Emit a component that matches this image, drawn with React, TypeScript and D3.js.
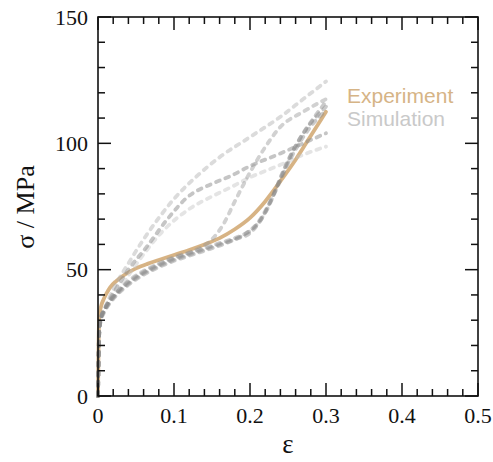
import React from "react";
import * as d3 from "d3";

const W = 493;
const H = 462;

// Experiment curve (strain, stress in MPa)
const expStrain = [0, 0.0005, 0.001, 0.002, 0.004, 0.007, 0.011, 0.016, 0.024, 0.035, 0.05, 0.065, 0.08, 0.1, 0.12, 0.14, 0.16, 0.18, 0.2, 0.22, 0.24, 0.26, 0.28, 0.3];
const expStress = [0, 14, 25, 32, 35.5, 38, 40.5, 43, 45.5, 48, 50.5, 52.3, 53.8, 55.8, 57.8, 60, 62.5, 66, 70.5, 77, 85, 93.5, 103, 112.5];

// Simulation curves
const simA_strain = [0, 0.0005, 0.001, 0.002, 0.004, 0.008, 0.015, 0.025, 0.04, 0.06, 0.08, 0.1, 0.13, 0.16, 0.2, 0.24, 0.27, 0.3];
const simA_stress = [0, 10, 19, 27, 31, 34, 39, 45, 52.5, 62, 70.5, 78, 87, 94.5, 102.5, 110.5, 117.5, 124.5];

const simB_strain = [0, 0.0005, 0.001, 0.002, 0.004, 0.008, 0.015, 0.025, 0.04, 0.064, 0.09, 0.117, 0.15, 0.174, 0.2, 0.24, 0.27, 0.3];
const simB_stress = [0, 10, 19, 27, 31, 34, 38, 43, 50, 59, 69.5, 78.5, 84, 87, 91, 96, 100, 104];

const simC_strain = [0, 0.0005, 0.001, 0.002, 0.004, 0.008, 0.015, 0.025, 0.05, 0.086, 0.12, 0.15, 0.174, 0.2, 0.24, 0.27, 0.3];
const simC_stress = [0, 10, 19, 27, 31, 33.5, 37, 41, 52, 65.5, 74, 79, 82.5, 86.5, 91.5, 95.5, 98.7];

const simD_strain = [0, 0.0005, 0.001, 0.002, 0.004, 0.008, 0.015, 0.025, 0.04, 0.06, 0.08, 0.1, 0.13, 0.15, 0.165, 0.18, 0.2, 0.22, 0.24, 0.27, 0.3];
const simD_stress = [0, 10, 19, 27, 31, 34, 37.5, 41, 45.5, 49.5, 52.5, 55, 58, 62, 68, 77, 88.5, 98.5, 106.5, 112.5, 117.5];

const simE_strain = [0, 0.0005, 0.001, 0.002, 0.004, 0.008, 0.015, 0.025, 0.04, 0.06, 0.08, 0.1, 0.12, 0.14, 0.16, 0.18, 0.195, 0.21, 0.225, 0.24, 0.255, 0.27, 0.285, 0.3];
const simE_stress = [0, 10, 19, 27, 31, 34, 37.5, 41, 45, 49, 52, 54.5, 56.5, 58.5, 60.5, 62.5, 64.5, 68.5, 76, 86, 96, 104, 110.5, 116.5];

const simF_strain = [0, 0.0005, 0.001, 0.002, 0.004, 0.008, 0.015, 0.025, 0.04, 0.06, 0.08, 0.1, 0.12, 0.14, 0.16, 0.18, 0.2, 0.215, 0.23, 0.245, 0.26, 0.28, 0.3];
const simF_stress = [0, 10, 19, 27, 30.5, 33.5, 37, 40.5, 44.5, 48.5, 51.5, 54, 56, 58, 60, 62, 64.5, 70, 79, 90, 99, 108, 114.5];

const simG_strain = [0, 0.0005, 0.001, 0.002, 0.004, 0.008, 0.015, 0.025, 0.04, 0.06, 0.08, 0.1, 0.12, 0.14, 0.16, 0.19, 0.205, 0.22, 0.235, 0.25, 0.27, 0.285, 0.3];
const simG_stress = [0, 10, 19, 26.5, 30, 33, 36.5, 40, 44, 48, 51, 53.5, 55.5, 57.5, 59.5, 63.5, 66.5, 72.5, 82, 92, 102.5, 108.5, 113];

const xTicks = [0, 0.1, 0.2, 0.3, 0.4, 0.5];
const yTicks = [0, 50, 100, 150];
const legendLabels = ["Experiment", "Simulation"];

const simCurves = [
  { strain: simC_strain, stress: simC_stress, color: "#c4c4c4", opacity: 0.45 },
  { strain: simA_strain, stress: simA_stress, color: "#b0b0b0", opacity: 0.45 },
  { strain: simB_strain, stress: simB_stress, color: "#8c8c8c", opacity: 0.5 },
  { strain: simD_strain, stress: simD_stress, color: "#9a9a9a", opacity: 0.45 },
  { strain: simE_strain, stress: simE_stress, color: "#8a8a8a", opacity: 0.45 },
  { strain: simF_strain, stress: simF_stress, color: "#8a8a8a", opacity: 0.45 },
  { strain: simG_strain, stress: simG_stress, color: "#8a8a8a", opacity: 0.45 },
];

export default function App() {
  const left = 98, right = 478, top = 17, bottom = 396;
  const x = d3.scaleLinear().domain([0, 0.5]).range([left, right]);
  const y = d3.scaleLinear().domain([0, 150]).range([bottom, top]);

  const line = d3
    .line<[number, number]>()
    .x((d) => x(d[0]))
    .y((d) => y(d[1]))
    .curve(d3.curveMonotoneX);

  const pts = (a: number[], b: number[]) => a.map((v, i) => [v, b[i]] as [number, number]);

  const xMinor = d3.range(0, 0.5001, 0.02);
  const yMinor = d3.range(0, 150.01, 10);
  const majLen = 13, minLen = 7;
  const serif = "'Liberation Serif', 'Times New Roman', serif";
  const sans = "'Liberation Sans', Arial, Helvetica, sans-serif";

  return (
    <svg width={W} height={H} style={{ position: "absolute", left: 0, top: 0, background: "#fff" }}>
      <rect x={0} y={0} width={W} height={H} fill="#fff" />
      {/* experiment */}
      <path d={line(pts(expStrain, expStress)) || ""} fill="none" stroke="#d0a66e" strokeWidth={3.8} strokeOpacity={0.85} strokeLinejoin="round" strokeLinecap="round" />
      {/* simulations */}
      {simCurves.map((c, i) => (
        <path
          key={i}
          d={line(pts(c.strain, c.stress)) || ""}
          fill="none"
          stroke={c.color}
          strokeOpacity={c.opacity}
          strokeWidth={3.8}
          strokeDasharray="4 6"
          strokeLinecap="round"
        />
      ))}
      {/* frame */}
      <rect x={left} y={top} width={right - left} height={bottom - top} fill="none" stroke="#111" strokeWidth={1.6} />
      {/* x ticks */}
      {xMinor.map((v, i) => {
        const major = i % 5 === 0;
        const len = major ? majLen : minLen;
        return (
          <g key={"xt" + i} stroke="#111" strokeWidth={1.5}>
            <line x1={x(v)} x2={x(v)} y1={bottom} y2={bottom - len} />
            <line x1={x(v)} x2={x(v)} y1={top} y2={top + len} />
          </g>
        );
      })}
      {yMinor.map((v, i) => {
        const major = i % 5 === 0;
        const len = major ? majLen : minLen;
        return (
          <g key={"yt" + i} stroke="#111" strokeWidth={1.5}>
            <line x1={left} x2={left + len} y1={y(v)} y2={y(v)} />
            <line x1={right} x2={right - len} y1={y(v)} y2={y(v)} />
          </g>
        );
      })}
      {xTicks.map((v) => (
        <text key={"xl" + v} x={x(v)} y={423} textAnchor="middle" fontFamily={serif} fontSize={22} fill="#111">
          {String(v)}
        </text>
      ))}
      {yTicks.map((v) => (
        <text key={"yl" + v} x={88} y={y(v)} dy="0.35em" textAnchor="end" fontFamily={serif} fontSize={22} fill="#111">
          {String(v)}
        </text>
      ))}
      <text x={288} y={453} textAnchor="middle" fontFamily={serif} fontSize={27} fill="#111">ε</text>
      <text transform={`translate(34,207) rotate(-90)`} textAnchor="middle" fontFamily={serif} fontSize={26} fill="#111">σ / MPa</text>
      <text x={347} y={103} fontFamily={sans} fontSize={21} fill="#d6b486">{legendLabels[0]}</text>
      <text x={347} y={126} fontFamily={sans} fontSize={21} fill="#c9c9c9">{legendLabels[1]}</text>
    </svg>
  );
}
